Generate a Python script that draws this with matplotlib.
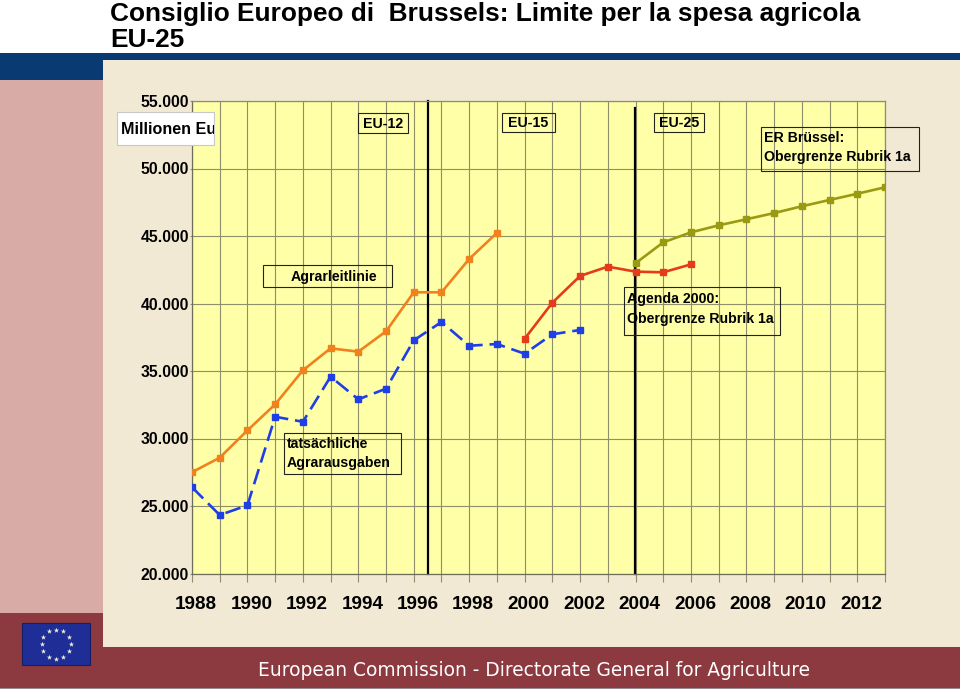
import matplotlib
matplotlib.use('Agg')
import matplotlib.pyplot as plt
import matplotlib.transforms as mtransforms
from matplotlib.patches import Rectangle
import numpy as np

# ---------------- data ----------------
years_guideline = [1988, 1989, 1990, 1991, 1992, 1993, 1994, 1995, 1996, 1997, 1998, 1999]
guideline = [27500, 28580, 30600, 32530, 35050, 36680, 36430, 37940, 40830, 40830, 43300, 45230]

years_actual = [1988, 1989, 1990, 1991, 1992, 1993, 1994, 1995, 1996, 1997, 1998, 1999, 2000, 2001, 2002]
actual = [26390, 24330, 25050, 31610, 31240, 34580, 32900, 33690, 37270, 38630, 36870, 37000, 36280, 37720, 38040]

years_agenda = [2000, 2001, 2002, 2003, 2004, 2005, 2006]
agenda2000 = [37390, 40060, 42040, 42730, 42360, 42310, 42900]

years_brussels = [2004, 2005, 2006, 2007, 2008, 2009, 2010, 2011, 2012, 2013]
brussels = [42980, 44530, 45270, 45790, 46240, 46700, 47200, 47670, 48130, 48610]

x_ticks = [1988, 1989, 1990, 1991, 1992, 1993, 1994, 1995, 1996, 1997, 1998, 1999, 2000,
           2001, 2002, 2003, 2004, 2005, 2006, 2007, 2008, 2009, 2010, 2011, 2012, 2013]
x_tick_labels = ['1988', '', '1990', '', '1992', '', '1994', '', '1996', '', '1998', '', '2000',
                 '', '2002', '', '2004', '', '2006', '', '2008', '', '2010', '', '2012', '']
y_ticks = [20000, 25000, 30000, 35000, 40000, 45000, 50000, 55000]
y_tick_labels = ['20.000', '25.000', '30.000', '35.000', '40.000', '45.000', '50.000', '55.000']

divider_years = [1996.5, 2003.97]
divider_tops = [55000, 54500]

# ---------------- figure ----------------
W, H = 960, 689
fig = plt.figure(figsize=(W / 100, H / 100), dpi=100)
fig.patch.set_facecolor('white')
FONT = ['Liberation Sans', 'DejaVu Sans']

# background layer in pixel coordinates
bg = fig.add_axes([0, 0, 1, 1], zorder=-2)
bg.set_xlim(0, W); bg.set_ylim(H, 0); bg.axis('off')
BLUE = '#0A3A72'; PINK = '#D8ABA7'; BEIGE = '#F1E9D3'; DRED = '#8D3940'
bg.add_patch(Rectangle((0, 53), W, 6.5, fc=BLUE, ec='none'))
bg.add_patch(Rectangle((0, 53), 103, 26.5, fc=BLUE, ec='none'))
bg.add_patch(Rectangle((0, 79.5), 103, 534, fc=PINK, ec='none'))
bg.add_patch(Rectangle((103, 59.5), W - 103, 588, fc=BEIGE, ec='none'))
bg.add_patch(Rectangle((0, 613), 103, 75, fc=DRED, ec='none'))
bg.add_patch(Rectangle((103, 647), W - 103, 41, fc=DRED, ec='none'))
bg.add_patch(Rectangle((0, 687.5), W, 1.5, fc='#9A8C8C', ec='none'))
# EU flag
bg.add_patch(Rectangle((22, 623), 68, 42, fc='#1F2E96', ec='#141E64', lw=0.8))
ang = np.linspace(0, 2 * np.pi, 13)[:-1]
bg.scatter(56 + 14.5 * np.cos(ang), 644 + 14.5 * np.sin(ang), marker='*', s=16,
           color='#F2F0D8', linewidths=0)

# title
bg.text(110, 21, 'Consiglio Europeo di  Brussels: Limite per la spesa agricola',
        family=FONT, weight='bold', fontsize=18.9, ha='left', va='baseline', color='black')
bg.text(110, 47, 'EU-25', family=FONT, weight='bold', fontsize=18.9,
        ha='left', va='baseline', color='black')
# footer
bg.text(534, 670, 'European Commission - Directorate General for Agriculture',
        family=['DejaVu Sans'], fontsize=13.4, color='white', ha='center', va='center')

# ---------------- main chart ----------------
x0, x1, ytop, ybot = 192, 885, 101, 573.5
ax = fig.add_axes([x0 / W, 1 - ybot / H, (x1 - x0) / W, (ybot - ytop) / H], zorder=1)
ax.set_facecolor('#FFFFA8')
ax.set_xlim(1988, 2013)
ax.set_ylim(20000, 55000)
ax.set_xticks(x_ticks)
ax.set_xticklabels(x_tick_labels)
ax.set_yticks(y_ticks)
ax.set_yticklabels(y_tick_labels)
GRID = '#8E8E6A'
ax.grid(True, color=GRID, lw=0.8, zorder=0)
ax.set_axisbelow(True)
for s in ax.spines.values():
    s.set_color(GRID); s.set_linewidth(0.9)
ax.spines['left'].set_color('#6E6E58')
ax.spines['bottom'].set_color('#6E6E58')
ax.tick_params(axis='x', length=6, width=0.8, color=GRID, direction='out', pad=10.5,
               labelsize=13.6)
ax.tick_params(axis='y', length=1.5, width=0.8, color=GRID, direction='out', pad=0.5,
               labelsize=11.3)
for lbl in ax.get_xticklabels() + ax.get_yticklabels():
    lbl.set_family(FONT); lbl.set_weight('bold'); lbl.set_color('black')
off = mtransforms.ScaledTranslation(4 / 100, 0, fig.dpi_scale_trans)
for lbl in ax.get_xticklabels():
    lbl.set_transform(lbl.get_transform() + off)

# enlargement dividers
for xv, top in zip(divider_years, divider_tops):
    ax.plot([xv, xv], [20000, top], color='black', lw=1.6, zorder=2, clip_on=False)

ax.plot(years_guideline, guideline, color='#F0821E', lw=1.9, marker='s', ms=4.5, zorder=3)
ax.plot(years_actual, actual, color='#1E3FE6', lw=1.9, marker='s', ms=4.5,
        dashes=(6.0, 2.6), zorder=3)
ax.plot(years_agenda, agenda2000, color='#E63B1A', lw=1.9, marker='s', ms=4.5, zorder=3)
ax.plot(years_brussels, brussels, color='#9A9A12', lw=1.9, marker='s', ms=4.5, zorder=3)

# ---------------- overlay boxes ----------------
ov = fig.add_axes([0, 0, 1, 1], zorder=5)
ov.set_xlim(0, W); ov.set_ylim(H, 0); ov.axis('off'); ov.patch.set_alpha(0)


def box(xa, ya, xb, yb, fc='none', ec='#222222', lw=0.8):
    ov.add_patch(Rectangle((xa, ya), xb - xa, yb - ya, fc=fc, ec=ec, lw=lw))


# Millionen Euro (clipped by its box, as in the original)
box(117, 112, 214, 145, fc='white', ec='#C8C8C8', lw=0.8)
t = ov.text(121, 129, 'Millionen Euro', family=FONT, weight='bold', fontsize=11.6,
            ha='left', va='center')
cb = mtransforms.TransformedBbox(
    mtransforms.Bbox.from_extents(117 / W, 1 - 145 / H, 214 / W, 1 - 112 / H),
    fig.transFigure)
t.set_clip_box(cb)
t.set_clip_on(True)

TB = dict(family=FONT, weight='bold', fontsize=10.2, color='black')
box(358, 113, 408, 133)
ov.text(383, 123.5, 'EU-12', ha='center', va='center', **TB)
box(502, 113, 555, 132)
ov.text(528.5, 123, 'EU-15', ha='center', va='center', **TB)
box(654, 113, 704, 132)
ov.text(679, 123, 'EU-25', ha='center', va='center', **TB)

box(761, 127, 919, 171)
ov.text(764, 138.5, 'ER Brüssel:', ha='left', va='center', **TB)
ov.text(764, 157.5, 'Obergrenze Rubrik 1a', ha='left', va='center', **TB)

box(624, 287, 780, 335)
ov.text(627, 299, 'Agenda 2000:', ha='left', va='center', **TB)
ov.text(627, 318.5, 'Obergrenze Rubrik 1a', ha='left', va='center', **TB)

box(263, 265, 392, 287)
ov.text(334, 276.5, 'Agrarleitlinie', ha='center', va='center', **TB)

box(284, 433, 401, 474)
ov.text(287, 444, 'tatsächliche', ha='left', va='center', **TB)
ov.text(287, 463.5, 'Agrarausgaben', ha='left', va='center', **TB)

fig.savefig('out.png', dpi=100)
